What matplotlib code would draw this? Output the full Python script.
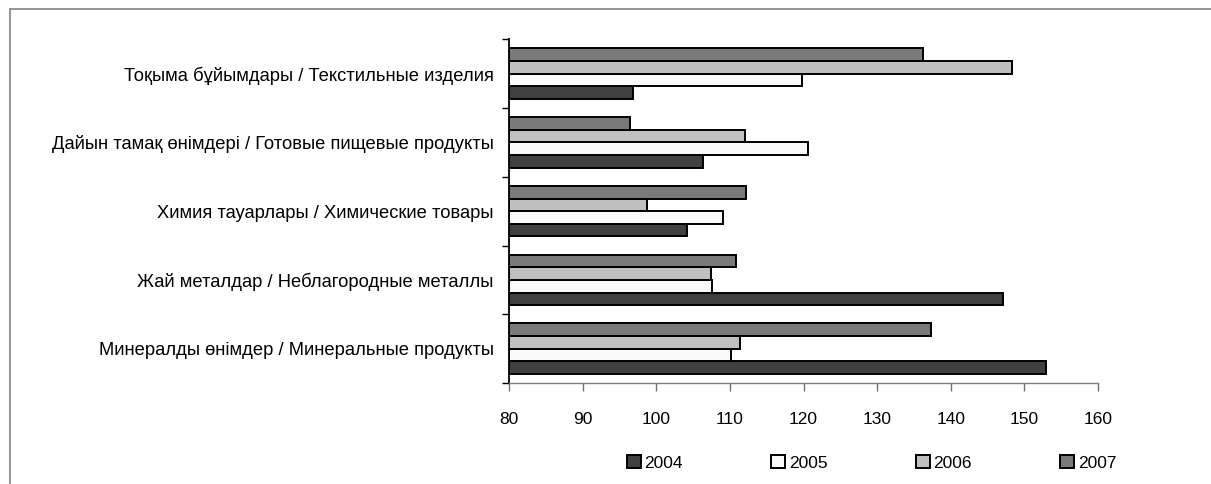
import matplotlib
matplotlib.use('Agg')
import matplotlib.pyplot as plt
from matplotlib.patches import Patch
from matplotlib.lines import Line2D
import numpy as np

plt.rcParams['font.family'] = ['Liberation Sans', 'DejaVu Sans']

# categories, listed top to bottom as in the chart
categories = [
    'Тоқыма бұйымдары / Текстильные изделия',
    'Дайын тамақ өнімдері / Готовые пищевые продукты',
    'Химия тауарлары / Химические товары',
    'Жай металдар / Неблагородные металлы',
    'Минералды өнімдер / Минеральные продукты',
]
years = ['2004', '2005', '2006', '2007']
v2004 = [96.9, 106.4, 104.2, 147.1, 153.0]
v2005 = [119.8, 120.6, 109.0, 107.6, 110.1]
v2006 = [148.3, 112.0, 98.8, 107.4, 111.4]
v2007 = [136.2, 96.4, 112.2, 110.8, 137.3]
colors = ['#404040', '#fafafa', '#c0c0c0', '#7a7a7a']
xticks = [80, 90, 100, 110, 120, 130, 140, 150, 160]

W, H = 1211, 484
fig = plt.figure(figsize=(W / 100, H / 100), dpi=100)
ax = fig.add_axes([509 / W, 1 - 383 / H, (1098 - 509) / W, (383 - 39.3) / H])

n = len(categories)
ypos = np.arange(n)[::-1]
h = 0.184
series = [v2004, v2005, v2006, v2007]
for k, vals in enumerate(series):
    off = (k - 1.5) * h
    ax.barh(ypos + off, np.array(vals) - 80, left=80, height=h,
            color=colors[k], edgecolor='black', linewidth=1.4)

ax.set_xlim(80, 160)
ax.set_ylim(-0.5, n - 0.5)
ax.set_xticks(xticks)
ax.set_xticklabels([str(t) for t in xticks], fontsize=12.5)
ax.tick_params(axis='x', direction='out', length=6, width=1, color='#707070', pad=15)

# ticks at band edges, labels at band centers
ax.set_yticks(np.arange(-0.5, n, 1.0))
ax.set_yticklabels([])
ax.set_yticks(ypos, minor=True)
ax.set_yticklabels(categories, minor=True, fontsize=13.2)
ax.tick_params(axis='y', which='major', direction='out', length=5, width=1, color='black')
ax.tick_params(axis='y', which='minor', length=0, pad=11)

for s in ['top', 'right']:
    ax.spines[s].set_visible(False)
ax.spines['left'].set_color('black')
ax.spines['left'].set_linewidth(1.3)
ax.spines['bottom'].set_color('#808080')
ax.spines['bottom'].set_linewidth(1.0)

handles = [Patch(facecolor=colors[k], edgecolor='black', linewidth=1.4) for k in range(4)]
fig.legend(handles, years, loc='center left', bbox_to_anchor=(627 / W, 1 - 463 / H),
           ncol=4, frameon=False, fontsize=12.5, handlelength=0.8, handleheight=0.8,
           handletextpad=0.2, columnspacing=5.1, borderpad=0, borderaxespad=0)

# outer frame (gray)
x0 = 9.5 / W
y0 = 1 - 8.5 / H
fig.add_artist(Line2D([x0, x0], [0, y0], color='#8c8c8c', lw=1.3, transform=fig.transFigure))
fig.add_artist(Line2D([x0, 1], [y0, y0], color='#8c8c8c', lw=1.3, transform=fig.transFigure))

fig.savefig('out.png', dpi=100)
